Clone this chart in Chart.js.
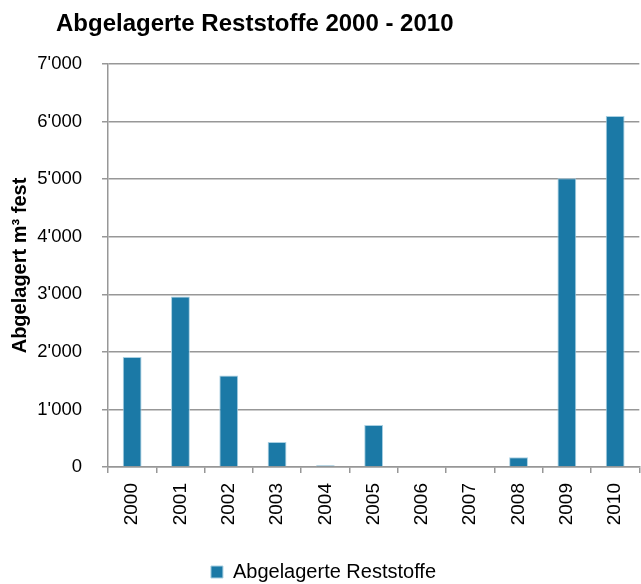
<!DOCTYPE html>
<html>
<head>
<meta charset="utf-8">
<script src="https://cdn.jsdelivr.net/npm/chart.js@4"></script>
<style>
  html, body { margin: 0; padding: 0; background: #fff; overflow: hidden; }
  #wrap { position: relative; width: 648px; height: 584px; }
  #title {
    position: absolute; left: 56px; top: 11px;
    font: bold 24px "Liberation Sans", Arial, sans-serif; line-height: 23px;
    color: #000; white-space: nowrap;
  }
</style>
</head>
<body>
<div id="wrap">
  <canvas id="chart" width="648" height="584"></canvas>
  <div id="title">Abgelagerte Reststoffe 2000 - 2010</div>
</div>
<script>
const years = ['2000', '2001', '2002', '2003', '2004', '2005', '2006', '2007', '2008', '2009', '2010']
const reststoffe = [1910, 2960, 1590, 435, 30, 730, 0, 0, 170, 5015, 6095]
const seriesName = 'Abgelagerte Reststoffe'
const yTitle = 'Abgelagert m³ fest'

// Tausender mit Apostroph
function fmt(v) {
  return String(v).replace(/\B(?=(\d{3})+(?!\d))/g, "'")
}

Chart.defaults.font.family = '"Liberation Sans", Arial, sans-serif'
Chart.defaults.color = '#000'

const gridColor = '#979797'

new Chart(document.getElementById('chart').getContext('2d'), {
  type: 'bar',
  data: {
    labels: years,
    datasets: [{
      label: seriesName,
      data: reststoffe,
      backgroundColor: '#1b79a6',
      borderColor: '#a9d0e2',
      borderWidth: 1,
      barPercentage: 0.39,
      categoryPercentage: 1
    }]
  },
  options: {
    responsive: false,
    animation: false,
    layout: { padding: { top: 64, right: 1, bottom: -8, left: 0 } },
    scales: {
      x: {
        grid: {
          offset: true,
          drawOnChartArea: false,
          tickLength: 6,
          color: gridColor,
          lineWidth: 1.5
        },
        border: { display: true, color: gridColor, width: 1.5 },
        ticks: {
          minRotation: 90,
          maxRotation: 90,
          padding: 10,
          font: { size: 19 }
        },
        afterFit: (scale) => { scale.height = 91 }
      },
      y: {
        min: 0,
        max: 7000,
        ticks: {
          stepSize: 1000,
          padding: 20,
          font: { size: 18.5 },
          callback: (v) => fmt(v)
        },
        grid: { color: gridColor, lineWidth: 1.5, tickLength: 6 },
        border: { display: true, color: gridColor, width: 1.5 },
        title: {
          display: true,
          text: yTitle,
          font: { size: 20, weight: 'bold' },
          padding: { top: 8, bottom: 0 }
        },
        afterFit: (scale) => { scale.width = 108 }
      }
    },
    plugins: {
      legend: {
        display: true,
        position: 'bottom',
        labels: {
          boxWidth: 12,
          boxHeight: 12,
          padding: 4,
          font: { size: 20 }
        }
      },
      tooltip: { enabled: false }
    }
  }
})
</script>
</body>
</html>
